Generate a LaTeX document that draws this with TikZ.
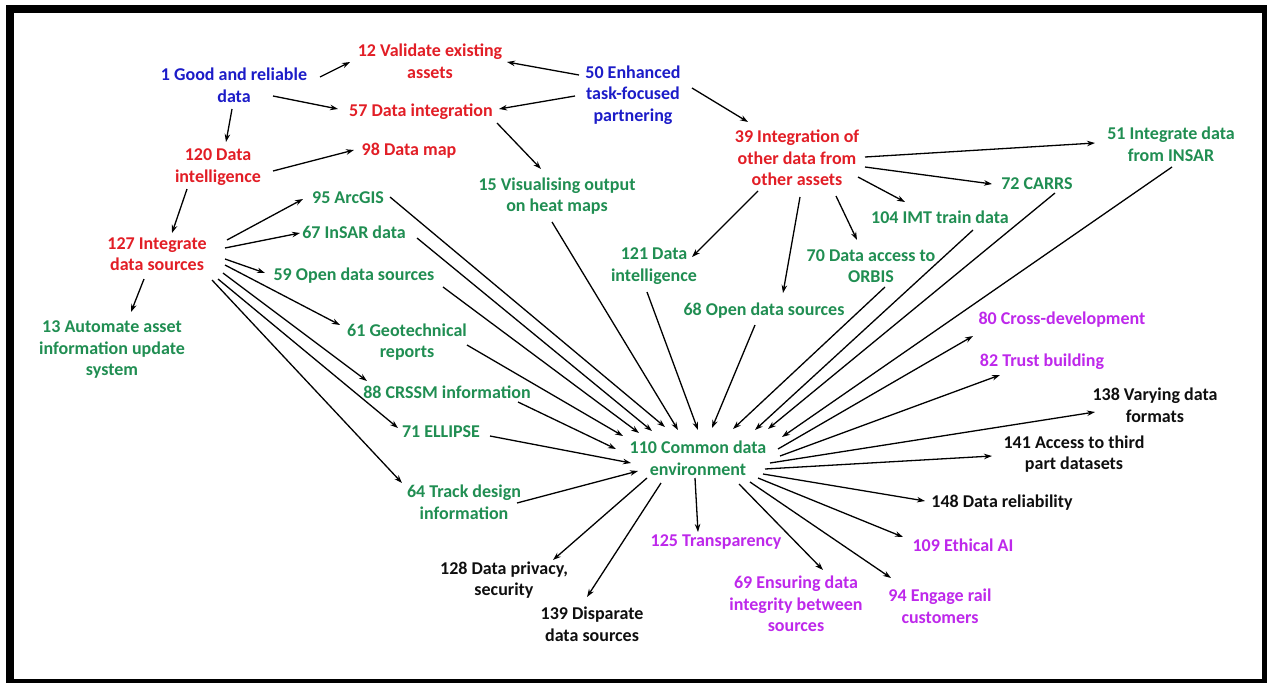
\documentclass[tikz,border=0pt]{standalone}
\usepackage{fontspec}
\setmainfont{Carlito}
\usetikzlibrary{arrows.meta}
\definecolor{cblue}{RGB}{28,28,200}
\definecolor{cred}{RGB}{226,30,38}
\definecolor{cgreen}{RGB}{32,142,82}
\definecolor{cpurple}{RGB}{190,40,235}
\definecolor{cblack}{RGB}{15,15,15}
\tikzset{
  lbl/.style={inner sep=0pt, align=center, font=\fontsize{18}{21.5}\selectfont\bfseries},
  bl/.style={lbl, text=cblue},
  rd/.style={lbl, text=cred},
  gr/.style={lbl, text=cgreen},
  pu/.style={lbl, text=cpurple},
  bk/.style={lbl, text=cblack},
  arw/.style={draw=black, line width=1.3pt, -{Stealth[length=8pt,width=5.5pt]}},
}
\newcommand{\conn}[4]{\draw[arw] ([shift={(#2)}]#1.center) -- ([shift={(#4)}]#3.center);}
\begin{document}
\begin{tikzpicture}[x=1pt,y=-1pt]
\useasboundingbox (0,0) rectangle (1267,683);
\fill[white] (0,0) rectangle (1267,683);
\draw[line width=8pt] (10,9) rectangle (1266,683);

% nodes
\node[bl] (n1) at (234,85) {1 Good and reliable\\data};
\node[rd] (n12) at (430,61) {12 Validate existing\\assets};
\node[bl] (n50) at (633,95) {50 Enhanced\\task-focused\\partnering};
\node[rd] (n57) at (421,112) {57 Data integration};
\node[rd] (n120) at (218,167) {120 Data\\intelligence};
\node[rd] (n98) at (409,151) {98 Data map};
\node[rd] (n39) at (797,158) {39 Integration of\\other data from\\other assets};
\node[gr] (n51) at (1171,144) {51 Integrate data\\from INSAR};
\node[gr] (n15) at (557,196) {15 Visualising output\\on heat maps};
\node[gr] (n95) at (348,198) {95 ArcGIS};
\node[gr] (n67) at (354,232) {67 InSAR data};
\node[rd] (n127) at (157,254) {127 Integrate\\data sources};
\node[gr] (n13) at (112,350) {13 Automate asset\\information update\\system};
\node[gr] (n59) at (354,276) {59 Open data sources};
\node[gr] (n61) at (407,342) {61 Geotechnical\\reports};
\node[gr] (n88) at (447,392) {88 CRSSM information};
\node[gr] (n71) at (441,432) {71 ELLIPSE};
\node[gr] (n64) at (464,502) {64 Track design\\information};
\node[gr] (n110) at (698,458) {110 Common data\\environment};
\node[gr] (n121) at (654,266) {121 Data\\intelligence};
\node[gr] (n68) at (764,311) {68 Open data sources};
\node[gr] (n70) at (871,266) {70 Data access to\\ORBIS};
\node[gr] (n104) at (940,217) {104 IMT train data};
\node[gr] (n72) at (1037,184) {72 CARRS};
\node[pu] (n80) at (1062,320) {80 Cross-development};
\node[pu] (n82) at (1042,362) {82 Trust building};
\node[bk] (n138) at (1155,405) {138 Varying data\\formats};
\node[bk] (n141) at (1074,454) {141 Access to third\\part datasets};
\node[bk] (n148) at (1002,503) {148 Data reliability};
\node[pu] (n109) at (963,545) {109 Ethical AI};
\node[pu] (n94) at (940,606) {94 Engage rail\\customers};
\node[pu] (n69) at (796,604) {69 Ensuring data\\integrity between\\sources};
\node[pu] (n125) at (716,542) {125 Transparency};
\node[bk] (n128) at (504,580) {128 Data privacy,\\security};
\node[bk] (n139) at (592,624) {139 Disparate\\data sources};

% upper connectors
\conn{n1}{86,-8}{n12}{-80,1}
\conn{n1}{39,11}{n57}{-83,-3}
\conn{n1}{-2,24}{n120}{8,-25}
\conn{n50}{-54,-20}{n12}{77,1}
\conn{n50}{-58,1}{n57}{78,-3}
\conn{n50}{59,-7}{n39}{-49,-36}
\conn{n57}{76,11}{n15}{-16,-27}
\conn{n120}{55,4}{n98}{-55,-1}
\conn{n120}{-31,22}{n127}{15,-21}
\conn{n127}{70,-14}{n95}{-45,1}
\conn{n127}{68,-6}{n67}{-54,1}
\conn{n127}{68,5}{n59}{-89,-3}
\conn{n127}{68,11}{n61}{-67,-17}
\conn{n127}{66,19}{n88}{-80,-11}
\conn{n127}{61,25}{n71}{-43,-4}
\conn{n127}{55,26}{n64}{-62,-19}
\conn{n127}{-13,25}{n13}{19,-38}
\conn{n39}{68,-1}{n51}{-76,-1}
\conn{n39}{68,9}{n72}{-45,0}
\conn{n39}{61,19}{n104}{-35,-15}
\conn{n39}{39,38}{n70}{-14,-26}
\conn{n39}{3,39}{n68}{19,-18}
\conn{n39}{-39,33}{n121}{38,-9}

% into 110
\conn{n95}{42,-1}{n110}{-33,-31}
\conn{n67}{63,6}{n110}{-46,-27}
\conn{n59}{89,11}{n110}{-59,-25}
\conn{n61}{60,3}{n110}{-75,-22}
\conn{n88}{71,10}{n110}{-82,-9}
\conn{n71}{49,4}{n110}{-67,5}
\conn{n64}{53,1}{n110}{-60,13}
\conn{n15}{-5,26}{n110}{-20,-28}
\conn{n121}{-7,26}{n110}{0,-28}
\conn{n68}{-9,14}{n110}{14,-30}
\conn{n70}{14,21}{n110}{35,-29}
\conn{n104}{33,13}{n110}{57,-28}
\conn{n72}{18,9}{n110}{70,-29}
\conn{n51}{1,23}{n110}{84,-21}

% out of 110
\conn{n110}{80,-9}{n80}{-89,16}
\conn{n110}{82,-2}{n82}{-42,13}
\conn{n110}{72,5}{n138}{-60,7}
\conn{n110}{67,11}{n141}{-82,2}
\conn{n110}{65,16}{n148}{-77,-2}
\conn{n110}{60,20}{n109}{-60,-8}
\conn{n110}{52,24}{n94}{-49,-28}
\conn{n110}{41,26}{n69}{27,-34}
\conn{n110}{-3,20}{n125}{-18,-10}
\conn{n110}{-37,25}{n139}{-5,-27}
\conn{n110}{-51,20}{n128}{49,-20}
\end{tikzpicture}
\end{document}
